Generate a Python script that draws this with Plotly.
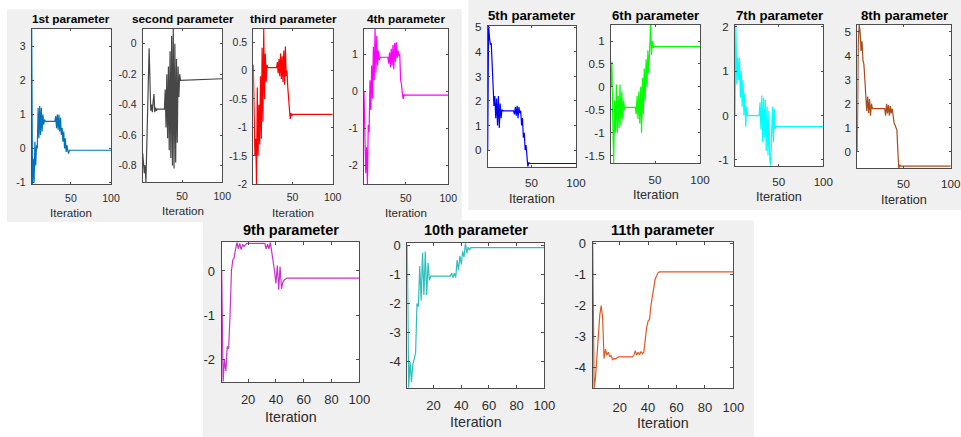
import plotly.graph_objects as go

W, H = 961, 437

# ---------------- data ----------------
titles = ["1st parameter", "second parameter", "third parameter", "4th parameter",
          "5th parameter", "6th parameter", "7th parameter", "8th parameter",
          "9th parameter", "10th parameter", "11th parameter"]
colors = ["#0072BD", "#474747", "#FF0000", "#FF00FF", "#0000FF", "#00FF00",
          "#00FFFF", "#A64B1E", "#C832C8", "#2DBEBE", "#DD5A25"]

x1 = [1, 2, 3, 4, 5, 6, 7, 8, 9, 10, 11, 12, 13, 14, 15, 16, 17, 18, 30, 31, 32, 33, 34, 35, 36, 37, 38, 39, 40, 41, 42, 43, 44, 45, 46, 47, 48, 100]
y1 = [3.5, -1.04, -0.3, -1.0, 0.2, -0.5, 0.1, 0.0, 1.2, 0.3, 1.25, 0.4, 1.2, 0.5, 1.0, 0.7, 0.85, 0.8, 0.8, 0.95, 0.6, 1.0, 0.55, 1.0, 0.5, 0.9, 0.4, 0.6, 0.2, 0.5, 0.0, 0.3, -0.1, 0.1, -0.05, -0.15, -0.05, -0.05]

x2 = [1, 2, 3, 4, 5, 9, 10, 11, 12, 13, 14, 15, 16, 17, 18, 19, 28, 29, 30, 31, 32, 33, 34, 35, 36, 37, 38, 39, 40, 41, 42, 43, 44, 45, 46, 47, 48, 100]
y2 = [-0.72, -0.78, -0.85, -0.8, -0.91, -0.03, -0.3, -0.44, -0.40, -0.45, -0.38, -0.33, -0.45, -0.42, -0.44, -0.43, -0.43, -0.30, -0.55, -0.2, -0.62, -0.15, -0.7, -0.05, -0.75, 0.05, -0.8, 0.1, -0.82, 0.0, -0.78, -0.1, -0.65, -0.15, -0.35, -0.2, -0.24, -0.23]

x3 = [1, 2, 3, 4, 5, 6, 7, 8, 9, 10, 11, 12, 13, 14, 15, 16, 17, 18, 19, 30, 31, 32, 33, 34, 35, 36, 37, 38, 39, 40, 41, 42, 43, 44, 45, 46, 47, 48, 49, 50, 100]
y3 = [0.1, -0.7, -1.5, -1.2, -2.0, -0.3, -1.5, -0.6, -1.3, -0.1, -1.2, 0.4, -0.9, 0.73, -0.5, 0.3, -0.2, 0.1, 0.05, 0.05, 0.15, -0.05, 0.2, -0.1, 0.3, -0.15, 0.25, -0.2, 0.35, -0.25, 0.42, -0.1, 0.0, -0.3, -0.5, -0.7, -0.85, -0.75, -0.8, -0.77, -0.77]

x4 = [1, 2, 3, 4, 5, 6, 7, 8, 9, 10, 11, 12, 13, 14, 15, 16, 17, 18, 19, 20, 29, 30, 31, 32, 33, 34, 35, 36, 37, 38, 39, 40, 41, 42, 43, 44, 45, 46, 47, 48, 49, 100]
y4 = [0.0, -1.0, -2.2, -1.5, -2.5, -0.9, -1.1, 0.3, -0.5, 0.7, -0.2, 1.2, 0.3, 1.68, 0.5, 1.5, 0.7, 1.1, 0.85, 0.92, 0.92, 0.75, 1.05, 0.65, 1.15, 0.7, 1.25, 0.6, 1.3, 0.8, 1.32, 0.9, 1.1, 0.95, 1.0, 0.3, 0.2, -0.05, -0.2, -0.08, -0.1, -0.1]

x5 = [1, 2, 3, 4, 5, 6, 7, 8, 9, 10, 11, 12, 13, 14, 15, 16, 17, 18, 30, 31, 32, 33, 34, 35, 36, 37, 38, 39, 40, 41, 42, 43, 44, 45, 46, 47, 48, 100]
y5 = [0.0, 5.07, 4.6, 4.3, 4.35, 3.5, 2.6, 1.8, 2.2, 1.3, 2.1, 1.0, 2.2, 0.9, 1.9, 1.3, 1.65, 1.6, 1.6, 1.45, 1.75, 1.4, 1.8, 1.3, 1.75, 1.5, 1.6, 1.0, 1.3, 0.5, 0.7, 0.0, 0.2, -0.3, -0.68, -0.5, -0.55, -0.55]

x6 = [1, 2, 3, 4, 5, 6, 7, 8, 9, 10, 11, 12, 13, 14, 15, 16, 17, 28, 29, 30, 31, 32, 33, 34, 35, 36, 37, 38, 39, 40, 41, 42, 43, 44, 45, 46, 47, 48, 49, 100]
y6 = [0.0, 0.55, -0.8, -1.67, -0.3, -1.0, 0.05, -1.0, -0.2, -0.9, 0.05, -0.85, -0.1, -0.7, -0.3, -0.5, -0.45, -0.45, -0.6, -0.2, -0.7, -0.1, -0.8, 0.0, -1.0, 0.2, -0.6, 0.4, -0.3, 0.6, 0.0, 0.8, 0.3, 1.1, 1.35, 0.7, 1.0, 0.85, 0.88, 0.88]

x7 = [1, 2, 3, 4, 5, 6, 7, 8, 9, 10, 11, 12, 13, 14, 15, 16, 28, 29, 30, 31, 32, 33, 34, 35, 36, 37, 38, 39, 40, 41, 42, 43, 44, 45, 46, 47, 100]
y7 = [0.0, 2.04, 0.7, 1.3, 0.8, 1.3, 0.4, 1.0, 0.2, 0.8, 0.0, 0.5, -0.25, 0.2, 0.0, 0.0, 0.0, 0.3, -0.3, 0.45, -0.6, 0.4, -0.5, 0.35, -0.8, 0.2, -0.9, 0.1, -1.0, -1.13, -0.5, 0.2, -0.6, 0.15, -0.3, -0.25, -0.25]

x8 = [1, 2, 3, 4, 5, 6, 7, 8, 9, 10, 11, 12, 13, 14, 15, 16, 17, 30, 31, 32, 33, 34, 35, 36, 37, 38, 39, 40, 41, 42, 43, 44, 45, 46, 47, 100]
y8 = [0.0, 4.5, 5.28, 5.0, 4.2, 4.6, 3.8, 3.65, 3.0, 2.3, 1.7, 2.3, 1.6, 2.2, 1.5, 2.0, 1.8, 1.8, 1.5, 2.0, 1.6, 1.95, 1.5, 1.9, 1.6, 1.8, 1.3, 1.2, 1.1, 1.0, 0.9, 0.0, -0.69, -0.55, -0.6, -0.6]

x9 = [1, 2, 3, 4, 5, 6, 7, 8, 9, 10, 11, 12, 13, 14, 15, 16, 17, 18, 19, 32, 33, 34, 35, 36, 37, 38, 39, 40, 41, 42, 43, 44, 45, 46, 47, 48, 100]
y9 = [0.0, -2.49, -2.0, -2.25, -1.7, -1.75, -1.0, 0.0, 0.25, 0.3, 0.5, 0.645, 0.5, 0.62, 0.48, 0.6, 0.55, 0.6, 0.62, 0.62, 0.5, 0.6, 0.5, 0.645, 0.45, 0.3, 0.0, -0.28, 0.12, -0.42, 0.1, -0.4, -0.25, -0.2, -0.17, -0.16, -0.16]

x10 = [1, 2, 3, 4, 5, 6, 7, 8, 9, 10, 11, 12, 13, 14, 15, 16, 17, 18, 32, 33, 34, 35, 36, 37, 38, 39, 40, 41, 42, 43, 44, 45, 46, 47, 100]
y10 = [0.0, -4.9, -4.0, -4.7, -4.1, -3.9, -3.7, -2.0, -2.1, -0.7, -1.9, -0.25, -1.7, -0.2, -1.7, -0.6, -1.2, -1.05, -1.05, -0.95, -1.1, -0.95, -1.1, -0.5, -0.85, -0.35, -0.65, -0.2, -0.4, 0.08, -0.25, -0.05, -0.15, -0.07, -0.07]

x11 = [1, 2, 3, 4, 5, 6, 7, 8, 9, 10, 11, 12, 13, 14, 15, 16, 17, 18, 19, 29, 30, 31, 32, 33, 34, 35, 36, 37, 38, 39, 40, 41, 42, 43, 44, 45, 46, 47, 48, 100]
y11 = [0.05, -4.66, -4.3, -3.6, -2.8, -2.3, -2.0, -2.4, -3.7, -3.4, -3.6, -3.5, -3.65, -3.6, -3.75, -3.7, -3.72, -3.68, -3.65, -3.65, -3.6, -3.45, -3.6, -3.5, -3.58, -3.48, -3.55, -3.5, -3.0, -2.7, -2.5, -2.45, -2.0, -1.7, -1.3, -1.15, -1.05, -0.95, -0.92, -0.92]

xs = [x1, x2, x3, x4, x5, x6, x7, x8, x9, x10, x11]
ys = [y1, y2, y3, y4, y5, y6, y7, y8, y9, y10, y11]

ytickvals = [[-1, 0, 1, 2, 3], [-0.8, -0.6, -0.4, -0.2, 0], [-2, -1.5, -1, -0.5, 0, 0.5],
             [-2, -1, 0, 1], [0, 1, 2, 3, 4, 5], [-1.5, -1, -0.5, 0, 0.5, 1],
             [-1, 0, 1, 2], [0, 1, 2, 3, 4, 5], [-2, -1, 0], [-4, -3, -2, -1, 0],
             [-4, -3, -2, -1, 0]]
yticktext = [["-1", "0", "1", "2", "3"], ["-0.8", "-0.6", "-0.4", "-0.2", "0"],
             ["-2", "-1.5", "-1", "-0.5", "0", "0.5"], ["-2", "-1", "0", "1"],
             ["0", "1", "2", "3", "4", "5"], ["-1.5", "-1", "-0.5", "0", "0.5", "1"],
             ["-1", "0", "1", "2"], ["0", "1", "2", "3", "4", "5"], ["-2", "-1", "0"],
             ["-4", "-3", "-2", "-1", "0"], ["-4", "-3", "-2", "-1", "0"]]
xticks_top = [50, 100]
xticks_bottom = [20, 40, 60, 80, 100]
xlabel = "Iteration"

# ---------------- layout (pixels) ----------------
panels = [(7, 461.7, 9.3, 222), (468.3, 961, 0, 210), (203, 754, 220.5, 437)]
boxes = [(31.7, 111, 29.3, 184), (142.7, 222.3, 28.5, 182.3), (253.3, 332.7, 29, 184.3),
         (364, 448.3, 29, 184.3), (487.7, 576, 25.7, 166.7), (611, 700, 25, 163.3),
         (735, 823.3, 25, 165.7), (857.3, 950.7, 25, 168.3), (221.7, 359.3, 242.3, 381.7),
         (407.3, 544.3, 243.3, 387.7), (592.7, 733.3, 241.7, 388.3)]
panel_of = [0, 0, 0, 0, 1, 1, 1, 1, 2, 2, 2]
tick_size = [10.5, 11.6, 13]
label_size = [11.6, 12.7, 14.3]
title_size = [11.8, 13.2, 14.5]
title_y = [19, 19, 19, 19, 15, 15, 15, 15, 230, 230.3, 230.3]
label_y = [212, 210, 212.3, 212.8, 198.7, 194.7, 197, 200, 417, 422, 423.3]
xlab_gap = [4, 4, 3, 4, 5, 6, 5, 5, 6, 6, 7]

FONT = "Liberation Sans, Arial, Helvetica, sans-serif"
AX = "#4d4d4d"
TXT = "#2b2b2b"

fig = go.Figure()
shapes = []
annotations = []
for (l, r, t, b) in panels:
    shapes.append(dict(type="rect", xref="paper", yref="paper", x0=l / W, x1=r / W,
                       y0=1 - b / H, y1=1 - t / H, fillcolor="#F0F0F0",
                       line=dict(width=0), layer="below"))

layout = {}
for i in range(11):
    n = i + 1
    sfx = "" if n == 1 else str(n)
    l, r, t, b = boxes[i]
    p = panel_of[i]
    ymin, ymax = min(ys[i]), max(ys[i])
    fig.add_trace(go.Scatter(x=xs[i], y=ys[i], mode="lines",
                             line=dict(color=colors[i], width=1.2),
                             xaxis="x" + sfx, yaxis="y" + sfx, showlegend=False,
                             hoverinfo="skip"))
    common = dict(showline=True, linecolor=AX, linewidth=1, mirror="ticks",
                  ticks="inside", ticklen=2 if p < 2 else 3, tickcolor=AX, tickwidth=1,
                  showgrid=False, zeroline=False, automargin=False,
                  tickfont=dict(family=FONT, size=tick_size[p], color=TXT))
    layout["xaxis" + sfx] = dict(common, domain=[l / W, r / W], anchor="y" + sfx,
                                 range=[1, 100], tickmode="array",
                                 tickvals=xticks_top if p < 2 else xticks_bottom,
                                 ticklabelstandoff=xlab_gap[i])
    layout["yaxis" + sfx] = dict(common, domain=[1 - b / H, 1 - t / H], anchor="x" + sfx,
                                 range=[ymin, ymax], tickmode="array",
                                 tickvals=ytickvals[i], ticktext=yticktext[i],
                                 ticklabelstandoff=3)
    shapes.append(dict(type="rect", xref="x" + sfx + " domain", yref="y" + sfx + " domain",
                       x0=0, x1=1, y0=0, y1=1, fillcolor="white",
                       line=dict(width=0), layer="below"))
    cx = (l + r) / 2 / W
    annotations.append(dict(text="<b>" + titles[i] + "</b>", x=cx, y=1 - title_y[i] / H,
                            xref="paper", yref="paper", xanchor="center", yanchor="middle",
                            showarrow=False,
                            font=dict(family=FONT, size=title_size[p], color="#000000")))
    annotations.append(dict(text=xlabel, x=cx, y=1 - label_y[i] / H,
                            xref="paper", yref="paper", xanchor="center", yanchor="middle",
                            showarrow=False,
                            font=dict(family=FONT, size=label_size[p], color=TXT)))

fig.update_layout(width=W, height=H,
                  margin=dict(l=0, r=0, t=0, b=0, pad=0, autoexpand=False),
                  paper_bgcolor="white", plot_bgcolor="white",
                  shapes=shapes, annotations=annotations, **layout)
fig.write_html("out.html", config={"displayModeBar": False},
               post_script="document.body.style.margin='0';document.body.style.overflow='hidden';")
